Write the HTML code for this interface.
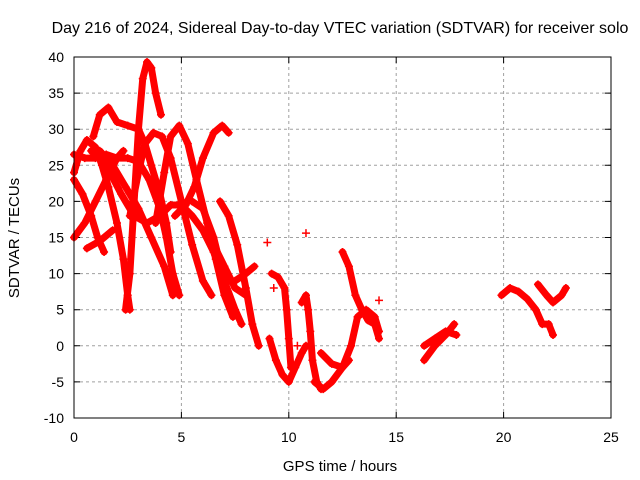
<!DOCTYPE html>
<html><head><meta charset="utf-8"><style>
html,body{margin:0;padding:0;background:#fff;}
svg{display:block;font-family:"Liberation Sans",sans-serif;}
</style></head><body>
<svg id="chart" width="640" height="480" viewBox="0 0 640 480">
<text x="340" y="33" text-anchor="middle" font-size="16" fill="#000">Day 216 of 2024, Sidereal Day-to-day VTEC variation (SDTVAR) for receiver solo</text>
<text x="340" y="471" text-anchor="middle" font-size="15" fill="#000">GPS time / hours</text>
<text transform="translate(19,238) rotate(-90)" text-anchor="middle" font-size="15" fill="#000">SDTVAR / TECUs</text>
<g id="grid"></g>
<g id="ticks"></g>
<g id="series"></g>
<rect x="74" y="57" width="537" height="361" fill="none" stroke="#000" stroke-width="1"/>
</svg>
<script>
const xTicks = [0, 5, 10, 15, 20, 25];
const yTicks = [-10, -5, 0, 5, 10, 15, 20, 25, 30, 35, 40];
const tracks = [
 [[0,15],[0.5,17],[1,20],[1.5,23],[2,26],[2.3,27]],
 [[0,24],[0.3,27],[0.6,28.5],[1,27.5],[1.3,25],[1.6,22],[2,17],[2.3,12],[2.5,7],[2.6,5]],
 [[0,26.5],[0.5,26],[1,26],[1.5,26.5],[2,26],[2.5,26],[3,25.5],[3.5,23],[4,19],[4.3,15],[4.6,10],[4.9,7]],
 [[2.4,5],[2.6,10],[2.8,20],[3,30],[3.2,37],[3.4,39.3],[3.6,38.5],[3.8,35],[4.05,32]],
 [[0.9,29],[1.2,32],[1.6,33],[2,31],[2.5,30.5],[3,30],[3.3,28],[3.6,25],[4,21],[4.3,17],[4.5,13]],
 [[0,23],[0.4,21],[0.8,18],[1.1,15],[1.4,13]],
 [[0.6,13.5],[1.2,14.5],[1.8,16]],
 [[2.6,18],[3,24],[3.3,28],[3.7,29.5],[4.1,29],[4.5,26],[5,20],[5.5,14],[6,9],[6.4,7]],
 [[3.8,17],[4.2,24],[4.5,29],[4.9,30.5],[5.3,28],[5.7,23],[6.2,17],[6.6,12],[7,7],[7.4,4]],
 [[4.7,18],[5.2,19.5],[5.6,22],[6,26],[6.5,29.5],[6.9,30.5],[7.2,29.5]],
 [[0.8,27],[1.5,25],[2.2,21],[2.8,18],[3.4,17],[4,18],[4.5,19.5],[5,19.5],[5.5,18],[6,16],[6.5,13],[7,9],[7.5,5],[7.8,3]],
 [[1.2,27],[1.8,25],[2.4,22],[3,19],[3.6,15],[4.2,11],[4.6,7]],
 [[5.5,20],[6,19],[6.5,15],[7,9],[7.5,9],[8,10],[8.4,11]],
 [[6.8,20],[7.2,18],[7.6,14],[8,8],[8.3,3],[8.6,0]],
 [[6.5,14],[7,11],[7.5,8],[8,7]],
 [[9.1,1],[9.4,-2],[9.7,-4],[10,-5],[10.3,-3],[10.6,-1],[10.8,0]],
 [[9.2,10],[9.5,9.5],[9.8,8],[9.9,5],[10,1],[10.1,-3]],
 [[10.6,6],[10.8,7],[10.9,5],[11,2],[11.1,-2],[11.3,-5],[11.5,-6]],
 [[11.2,-5],[11.6,-6],[12,-5],[12.5,-3],[12.9,0],[13.2,4],[13.6,5],[14,4],[14.2,2]],
 [[11.5,-1],[12,-2.5],[12.5,-3],[12.8,-2]],
 [[12.5,13],[12.8,11],[13.1,7],[13.4,5],[13.7,3.5],[14,3],[14.2,1]],
 [[16.3,-2],[16.8,0],[17.3,1.5],[17.7,3]],
 [[16.3,0],[16.8,1],[17.3,2],[17.8,1.5]],
 [[19.9,7],[20.3,8],[20.7,7.5],[21.1,6.5],[21.5,5],[21.8,3],[22.1,3],[22.3,1.5]],
 [[21.6,8.5],[22,7],[22.3,6],[22.7,7],[22.9,8]]
];
const isolatedHours = [9.0, 10.8, 14.2, 9.3, 10.4];
const isolatedValues = [14.3, 15.6, 6.3, 8, 0];

const X0=74,X1=611,Y0=418,Y1=57;
const xs = h => X0 + (h-0)/(25-0)*(X1-X0);
const ys = v => Y0 - (v+10)/(50)*(Y0-Y1);
const NS="http://www.w3.org/2000/svg";
const grid=document.getElementById('grid'), ticks=document.getElementById('ticks'), ser=document.getElementById('series');
function mk(tag,attrs,parent){const e=document.createElementNS(NS,tag);for(const k in attrs)e.setAttribute(k,attrs[k]);parent.appendChild(e);return e;}
xTicks.forEach(t=>{
  const x=xs(t);
  if(t>0&&t<25){const g=mk('line',{x1:x,x2:x,y1:Y0,y2:Y1,stroke:'#a0a0a0','stroke-dasharray':'3,3','stroke-width':1},grid);
  
  
  const tk=mk('path',{d:`M${x},${Y0}v-6M${x},${Y1}v6`,stroke:'#000','stroke-width':1},ticks);
  
  }
  const l=mk('text',{x:x,y:Y0+24,'text-anchor':'middle','font-size':14,fill:'#000'},ticks);
  l.textContent=t;
  
  
});
yTicks.forEach(t=>{
  const y=ys(t);
  if(t>-10&&t<40){const g=mk('line',{x1:X0,x2:X1,y1:y,y2:y,stroke:'#a0a0a0','stroke-dasharray':'3,3','stroke-width':1},grid);
  
  
  const tk=mk('path',{d:`M${X0},${y}h6M${X1},${y}h-6`,stroke:'#000','stroke-width':1},ticks);
  
  }
  const l=mk('text',{x:X0-10,y:y+5,'text-anchor':'end','font-size':14,fill:'#000'},ticks);
  l.textContent=t;
  
  
});
function plus(h,v){
  const x=xs(h),y=ys(v);
  const p=mk('path',{d:`M${x-4},${y}H${x+4}M${x},${y-4}V${y+4}`,stroke:'#ff0000','stroke-width':1.5},ser);
  
  
}
tracks.forEach(tr=>{
  const pl=mk('polyline',{points:tr.map(p=>xs(p[0])+','+ys(p[1])).join(' '),fill:'none',stroke:'#ff0000','stroke-width':7,'stroke-linejoin':'round','stroke-linecap':'round'},ser);
  
  
  tr.forEach(p=>plus(p[0],p[1]));
});
isolatedHours.forEach((h,i)=>plus(h,isolatedValues[i]));
</script>
</body></html>
